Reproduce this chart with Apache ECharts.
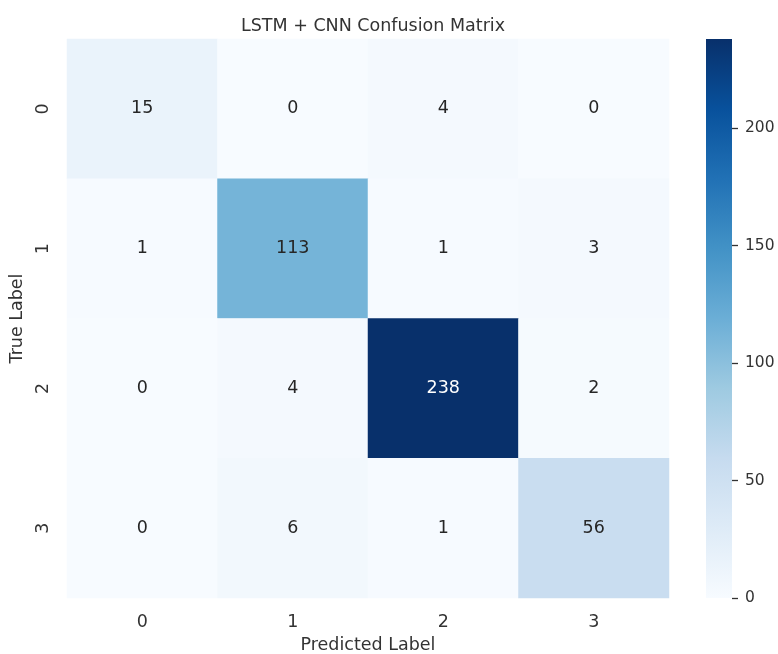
<!DOCTYPE html>
<html>
<head>
<meta charset="utf-8">
<script src="https://cdn.jsdelivr.net/npm/echarts@6/dist/echarts.min.js"></script>
<style>
html,body{margin:0;padding:0;background:#fff;}
#chart{width:778px;height:654px;}
</style>
</head>
<body>
<div id="chart"></div>
<script>
// ---- data ----
const predictedLabels = ['0', '1', '2', '3'];
const trueLabels = ['0', '1', '2', '3'];
const row0 = [15, 0, 4, 0];
const row1 = [1, 113, 1, 3];
const row2 = [0, 4, 238, 2];
const row3 = [0, 6, 1, 56];
const colorbarTicks = [0, 50, 100, 150, 200];
const titleText = 'LSTM + CNN Confusion Matrix';

// ---- styling ----
const blues = ['#f7fbff', '#deebf7', '#c6dbef', '#9ecae1', '#6baed6', '#4292c6', '#2171b5', '#08519c', '#08306b'];
const FONT = 'DejaVu Sans';
const TXT = '#333333';
const FS = 17.5;

const rows = [row0, row1, row2, row3];
const vmax = Math.max(...rows.flat());
const vmin = 0;

const heatData = [];
rows.forEach((r, yi) => {
  r.forEach((v, xi) => {
    heatData.push({
      value: [xi, yi, v],
      label: { color: (v / vmax > 0.6) ? '#ffffff' : '#262626' }
    });
  });
});

// gradient from bottom (light, offset 0) to top (dark, offset 1)
const gradStops = blues.map((c, i) => ({ offset: i / (blues.length - 1), color: c }));

const chart = echarts.init(document.getElementById('chart'), null, { renderer: 'canvas' });
chart.setOption({
  backgroundColor: '#ffffff',
  animation: false,
  textStyle: { fontFamily: FONT },
  title: {
    text: titleText,
    left: 368,
    top: 12,
    textAlign: 'center',
    textStyle: { fontFamily: FONT, fontSize: FS, fontWeight: 'normal', color: TXT }
  },
  grid: [
    { left: 67, top: 39, width: 602, height: 559, containLabel: false, outerBoundsMode: 'none' },
    { left: 706, top: 39, width: 26, height: 559, containLabel: false, outerBoundsMode: 'none' }
  ],
  xAxis: [
    {
      gridIndex: 0, type: 'category', data: predictedLabels,
      axisLine: { show: false }, axisTick: { show: false }, splitLine: { show: false },
      axisLabel: { fontFamily: FONT, fontSize: FS, color: TXT, margin: 15 },
      name: 'Predicted Label', nameLocation: 'middle', nameGap: 38,
      nameTextStyle: { fontFamily: FONT, fontSize: FS, color: TXT }
    },
    {
      gridIndex: 1, type: 'category', data: ['cb'], show: false
    }
  ],
  yAxis: [
    {
      gridIndex: 0, type: 'category', data: trueLabels, inverse: true,
      axisLine: { show: false }, axisTick: { show: false }, splitLine: { show: false },
      axisLabel: { fontFamily: FONT, fontSize: FS, color: TXT, margin: 15, rotate: 90 },
      name: 'True Label', nameLocation: 'middle', nameGap: 40,
      nameTextStyle: { fontFamily: FONT, fontSize: FS, color: TXT }
    },
    {
      gridIndex: 1, type: 'value', min: vmin, max: vmax, position: 'right',
      axisLine: { show: false },
      splitLine: { show: false },
      axisTick: { show: true, length: 6, customValues: colorbarTicks, lineStyle: { color: TXT, width: 1.3 } },
      axisLabel: { fontFamily: FONT, fontSize: 15.5, color: TXT, margin: 13, customValues: colorbarTicks }
    }
  ],
  visualMap: {
    show: false, type: 'continuous', min: vmin, max: vmax, dimension: 2, seriesIndex: 0,
    inRange: { color: blues }
  },
  series: [
    {
      type: 'heatmap', xAxisIndex: 0, yAxisIndex: 0, data: heatData,
      label: { show: true, fontFamily: FONT, fontSize: FS, formatter: p => String(p.value[2]) },
      itemStyle: { borderWidth: 0 },
      emphasis: { disabled: true }
    },
    {
      type: 'bar', xAxisIndex: 1, yAxisIndex: 1, data: [vmax], barWidth: '100%',
      itemStyle: { color: new echarts.graphic.LinearGradient(0, 1, 0, 0, gradStops) },
      silent: true
    }
  ]
});
</script>
</body>
</html>
